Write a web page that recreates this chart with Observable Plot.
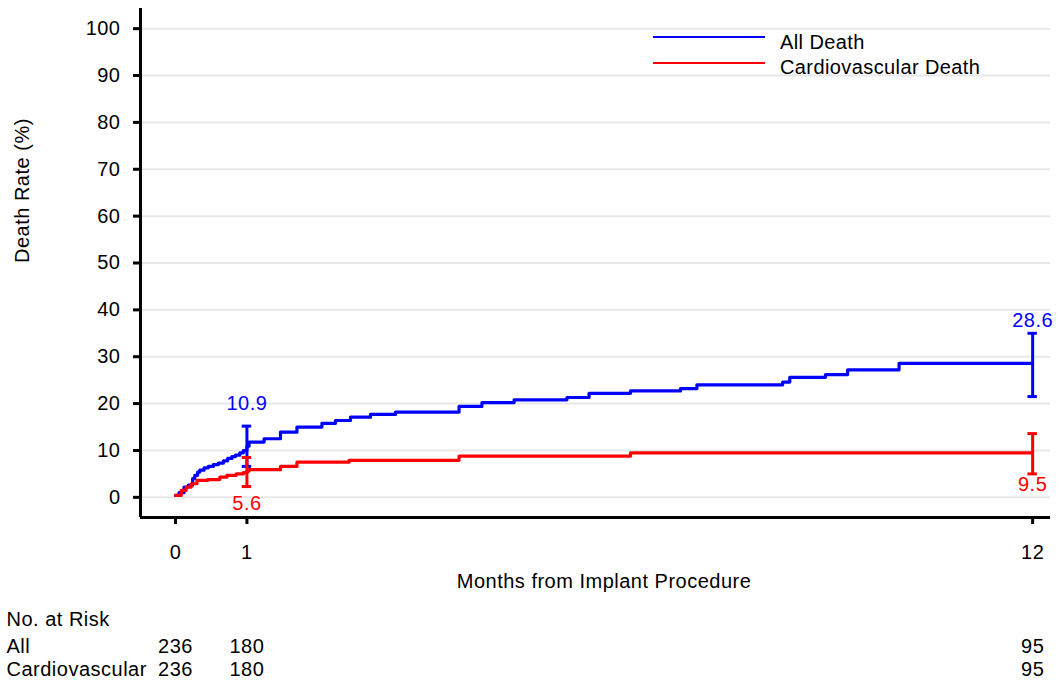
<!DOCTYPE html>
<html><head><meta charset="utf-8">
<script src="https://cdn.jsdelivr.net/npm/d3@7"></script>
<script src="https://cdn.jsdelivr.net/npm/@observablehq/plot@0.6"></script>
<style>
body{margin:0;background:#fff;font-family:"Liberation Sans",Arial,sans-serif;}
#wrap{position:relative;width:1061px;height:683px;overflow:hidden;}
.lg-line{position:absolute;height:2px;width:112px;}
.lg-text{position:absolute;font-size:20px;line-height:24px;color:#000;white-space:nowrap;letter-spacing:0.4px;}
svg text{letter-spacing:0.5px;}
</style></head><body><div id="wrap"></div>
<script>
// ---- data ----
const seriesNames = ["All Death", "Cardiovascular Death"];
const seriesColors = ["#0000ff", "#ff0000"];

const allMonths = [0,0.05,0.12,0.18,0.24,0.27,0.31,0.34,0.40,0.46,0.53,0.60,0.67,0.73,0.79,0.84,0.90,0.95,1.0,1.03,1.24,1.47,1.70,2.05,2.24,2.45,2.73,3.08,3.97,4.29,4.74,5.48,5.79,6.37,7.07,7.30,8.50,8.60,9.10,9.41,10.13,12];
const allRates  = [0.4,1.0,2.2,2.6,4.0,4.7,5.4,5.8,6.3,6.6,7.0,7.3,7.8,8.3,8.7,9.0,9.5,10.0,10.9,11.8,12.5,13.9,15.0,15.8,16.4,17.1,17.7,18.2,19.4,20.2,20.8,21.3,22.2,22.7,23.2,24.0,24.6,25.6,26.2,27.2,28.6,28.6];

const cvMonths = [0,0.08,0.15,0.22,0.30,0.45,0.62,0.72,0.85,0.95,1.0,1.03,1.47,1.70,2.43,3.97,6.37,12];
const cvRates  = [0.4,1.5,2.2,2.9,3.6,3.8,4.3,4.7,5.0,5.3,5.6,5.9,6.6,7.5,7.9,8.8,9.5,9.5];

const ciMonths = [1, 12];
const allEst = [10.9, 28.6], allLow = [6.6, 21.5], allHigh = [15.2, 35.0];
const cvEst  = [5.6, 9.5],   cvLow  = [2.3, 5.0],  cvHigh  = [8.5, 13.6];

const xTicks = [0, 1, 12];
const yTicks = [0,10,20,30,40,50,60,70,80,90,100];
const xDomain = [-0.49, 12.25];
const yDomain = [-4.3, 104.3];

const riskMonths = [0, 1, 12];
const riskAll = [236, 180, 95];
const riskCV  = [236, 180, 95];
const riskTitle = "No. at Risk";
const riskRowNames = ["All", "Cardiovascular"];

const xLabel = "Months from Implant Procedure";
const yLabel = "Death Rate (%)";

// ---- build tables ----
const allData = allMonths.map((m, i) => ({m, v: allRates[i]}));
const cvData = cvMonths.map((m, i) => ({m, v: cvRates[i]}));
const ciAll = ciMonths.map((m, i) => ({m, est: allEst[i], lo: allLow[i], hi: allHigh[i]}));
const ciCV  = ciMonths.map((m, i) => ({m, est: cvEst[i], lo: cvLow[i], hi: cvHigh[i]}));
const capHalf = 0.066;
const caps = (arr) => arr.flatMap(d => [{m: d.m, y: d.lo}, {m: d.m, y: d.hi}]);
const rowAll = riskMonths.map((m, i) => ({m, t: String(riskAll[i])}));
const rowCV = riskMonths.map((m, i) => ({m, t: String(riskCV[i])}));
const xMid = (xTicks[0] + xTicks[xTicks.length - 1]) / 2;

const font = "Liberation Sans, Arial, sans-serif";

const chart = Plot.plot({
  width: 1061, height: 683,
  marginLeft: 140, marginRight: 11, marginTop: 8, marginBottom: 166,
  style: {fontFamily: font, fontSize: "20px", color: "#000", background: "#fff", overflow: "visible"},
  x: {type: "linear", domain: xDomain, axis: null},
  y: {type: "linear", domain: yDomain, axis: null},
  marks: [
    Plot.gridY({ticks: yTicks, stroke: "#e8e8e8", strokeOpacity: 1, strokeWidth: 2}),
    Plot.axisY({ticks: yTicks, tickSize: 7, tickPadding: 13, strokeWidth: 3, fontSize: 20, label: null, tickFormat: d => String(d)}),
    Plot.axisX({ticks: xTicks, tickSize: 7, tickPadding: 20, strokeWidth: 3, fontSize: 20, label: null, tickFormat: d => String(d)}),
    Plot.ruleX([xDomain[0]], {strokeWidth: 3, stroke: "#000"}),
    Plot.ruleY([yDomain[0]], {strokeWidth: 3, stroke: "#000"}),
    Plot.line(allData, {x: "m", y: "v", curve: "step-after", stroke: seriesColors[0], strokeWidth: 3.2}),
    Plot.line(cvData, {x: "m", y: "v", curve: "step-after", stroke: seriesColors[1], strokeWidth: 3.2}),
    // error bars
    Plot.ruleX(ciAll, {x: "m", y1: "lo", y2: "hi", stroke: seriesColors[0], strokeWidth: 3}),
    Plot.ruleY(caps(ciAll), {x1: d => d.m - capHalf, x2: d => d.m + capHalf, y: "y", stroke: seriesColors[0], strokeWidth: 3}),
    Plot.ruleX(ciCV, {x: "m", y1: "lo", y2: "hi", stroke: seriesColors[1], strokeWidth: 3}),
    Plot.ruleY(caps(ciCV), {x1: d => d.m - capHalf, x2: d => d.m + capHalf, y: "y", stroke: seriesColors[1], strokeWidth: 3}),
    Plot.text(ciAll, {x: "m", y: "est", text: d => d.est.toFixed(1), fill: seriesColors[0], fontSize: 20, dy: -43}),
    Plot.text(ciCV, {x: "m", y: "est", text: d => d.est.toFixed(1), fill: seriesColors[1], fontSize: 20, dy: 32}),
    // axis labels
    Plot.text([xLabel], {x: () => xMid, frameAnchor: "bottom", dy: 70, text: d => d, fontSize: 20, fill: "#000"}),
    Plot.text([yLabel], {frameAnchor: "left", dx: -118, rotate: -90, text: d => d, fontSize: 20, fill: "#000"}),
    // risk table
    Plot.text([riskTitle], {frameAnchor: "bottom-left", dx: -134, dy: 108, textAnchor: "start", text: d => d, fontSize: 20, fill: "#000"}),
    Plot.text([riskRowNames[0]], {frameAnchor: "bottom-left", dx: -134, dy: 135, textAnchor: "start", text: d => d, fontSize: 20, fill: "#000"}),
    Plot.text([riskRowNames[1]], {frameAnchor: "bottom-left", dx: -134, dy: 158, textAnchor: "start", text: d => d, fontSize: 20, fill: "#000"}),
    Plot.text(rowAll, {x: "m", frameAnchor: "bottom", dy: 135, text: "t", fontSize: 20, fill: "#000"}),
    Plot.text(rowCV, {x: "m", frameAnchor: "bottom", dy: 158, text: "t", fontSize: 20, fill: "#000"})
  ]
});
const wrap = document.getElementById("wrap");
wrap.appendChild(chart);

// legend overlay
const legendRows = [{lineTop: 36, textTop: 30}, {lineTop: 62, textTop: 55}];
seriesNames.forEach((name, i) => {
  const ln = document.createElement("div");
  ln.className = "lg-line";
  ln.style.left = "653px";
  ln.style.top = legendRows[i].lineTop + "px";
  ln.style.background = seriesColors[i];
  wrap.appendChild(ln);
  const tx = document.createElement("div");
  tx.className = "lg-text";
  tx.style.left = "780px";
  tx.style.top = legendRows[i].textTop + "px";
  tx.textContent = name;
  wrap.appendChild(tx);
});
</script></body></html>
